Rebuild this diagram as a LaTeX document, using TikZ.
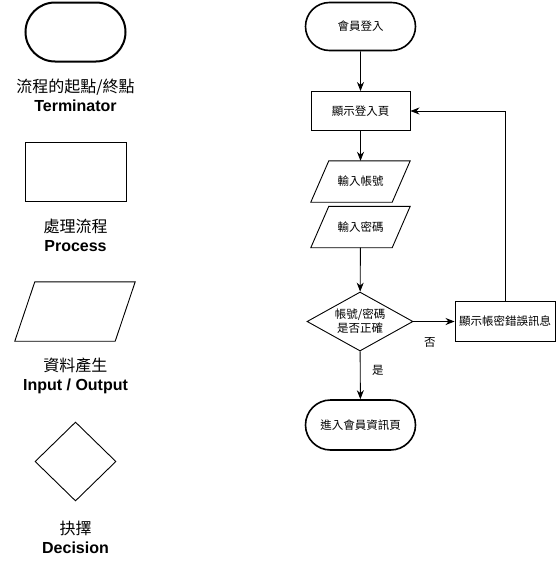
\documentclass[tikz,border=0pt]{standalone}
\usepackage{fontspec}
\setmainfont{Liberation Sans}
\newfontfamily\cjk{Noto Sans CJK TC}
\usetikzlibrary{shapes.geometric,shapes.misc,arrows.meta}
\tikzset{
  term/.style={rounded rectangle, draw, line width=1.6pt, inner sep=0pt},
  proc/.style={rectangle, draw, line width=0.9pt, inner sep=0pt},
  iobox/.style={rectangle, inner sep=0pt},
  ioline/.style={line width=0.9pt, line join=miter},
  dec/.style={diamond, draw, line width=0.9pt, inner sep=0pt},
  legend/.style={align=center, font=\fontsize{16}{20}\selectfont},
  small/.style={font=\cjk\fontsize{11.5}{14}\selectfont},
  arr/.style={draw, line width=0.9pt, -{Stealth[length=9pt,width=7pt]}},
}
\newcommand\parallelo[2]{%
  \draw[ioline] (#1.south west) -- ([xshift=#2]#1.north west) -- (#1.north east) -- ([xshift=-#2]#1.south east) -- cycle;}
\begin{document}
\begin{tikzpicture}[x=1pt,y=-1pt]
\useasboundingbox (0,0) rectangle (556,562);
% legend
\node[term, minimum width=100, minimum height=59, line width=2pt] (lt) at (75.5,32) {};
\node[legend] (ltt) at (75.5,95) {{\cjk 流程的起點/終點}\\[-1pt]\textbf{Terminator}};
\node[proc, minimum width=101, minimum height=59] (lp) at (75.5,171.5) {};
\node[legend] (lpt) at (75.5,235) {{\cjk 處理流程}\\[-1pt]\textbf{Process}};
\node[iobox, minimum width=120, minimum height=59] (li) at (75,311.5) {};
\parallelo{li}{20}
\node[legend] (lit) at (75.5,376) {{\cjk 資料產生}\\[-1pt]\textbf{Input / Output}};
\node[dec, minimum width=81, minimum height=79] (ld) at (75.5,461.5) {};
\node[legend] (ldt) at (75.5,537) {{\cjk 抉擇}\\[-1pt]\textbf{Decision}};
% flow
\node[term, small, minimum width=110, minimum height=48] (start) at (360.5,26.5) {會員登入};
\node[proc, small, minimum width=99, minimum height=39] (login) at (360.5,111) {顯示登入頁};
\node[iobox, small, minimum width=99, minimum height=41] (acc) at (360.5,181.5) {輸入帳號};
\parallelo{acc}{18}
\node[iobox, small, minimum width=99, minimum height=41] (pwd) at (360.5,227) {輸入密碼};
\parallelo{pwd}{18}
\node[dec, small, align=center, aspect=1.8, minimum width=106, minimum height=59] (chk) at (360,321.5) {帳號/密碼\\是否正確};
\node[proc, small, minimum width=100, minimum height=40] (err) at (505,321.5) {顯示帳密錯誤訊息};
\node[term, small, minimum width=110, minimum height=50] (member) at (360.5,425) {進入會員資訊頁};
\draw[arr] (start) -- (login);
\draw[arr] (login) -- (acc);
\draw[arr] (pwd) -- (chk);
\draw[arr] (chk) -- node[small, pos=0.4, below=12pt] (no) {否} (err);
\draw[arr] (chk) -- node[small, pos=0.4, right=8pt] (yes) {是} (member);
\draw[arr] (err.north) |- (login.east);
\end{tikzpicture}
\end{document}
